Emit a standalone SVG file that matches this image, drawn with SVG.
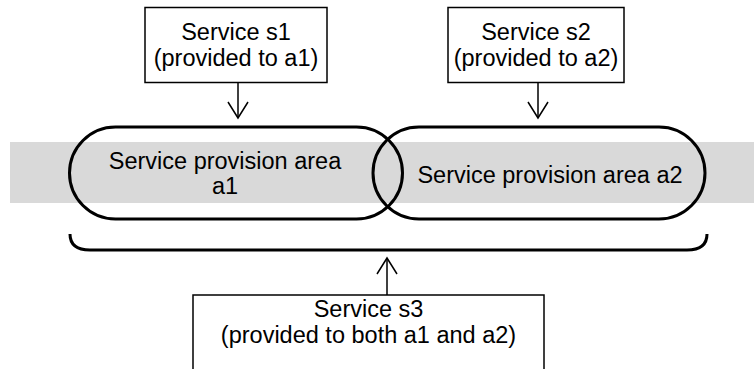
<svg xmlns="http://www.w3.org/2000/svg" width="754" height="369" viewBox="0 0 754 369">
<style>
text{font-family:"Liberation Sans",Arial,sans-serif;font-size:23.5px;fill:#000;text-anchor:middle}
.box{fill:#fff;stroke:#000;stroke-width:1.5}
.pill{fill:none;stroke:#000;stroke-width:3}
.conn{fill:none;stroke:#000;stroke-width:1.5}
</style>
<defs>
<marker id="arr" markerUnits="userSpaceOnUse" viewBox="-18 -11 20 22" markerWidth="20" markerHeight="22" refX="0" refY="0" orient="auto">
<path d="M-16,-10 L0,0 L-16,10" fill="none" stroke="#000" stroke-width="1.5"/>
</marker>
</defs>
<rect id="band" x="10" y="142" width="744" height="61" fill="#d9d9d9"/>
<g id="area-a1">
<rect class="pill" x="69.5" y="127" width="333" height="92" rx="46" ry="46"/>
<text x="225" y="169">Service provision area</text>
<text x="225" y="194">a1</text>
</g>
<g id="area-a2">
<rect class="pill" x="373" y="127" width="332" height="92" rx="46" ry="46"/>
<text x="550" y="183">Service provision area a2</text>
</g>
<g id="bracket">
<path class="pill" d="M70,234 C70,246 78,250 90,250 L687,250 C699,250 707,246 707,234"/>
</g>
<g id="s1">
<rect class="box" x="145" y="7.5" width="182" height="75"/>
<text x="236" y="40">Service s1</text>
<text x="236" y="66">(provided to a1)</text>
</g>
<g id="s2">
<rect class="box" x="448" y="7.5" width="176" height="75"/>
<text x="536" y="40">Service s2</text>
<text x="536" y="66">(provided to a2)</text>
</g>
<g id="s3">
<rect class="box" x="193" y="295" width="351" height="90"/>
<text x="368.5" y="317">Service s3</text>
<text x="368.5" y="343">(provided to both a1 and a2)</text>
</g>
<g id="connectors">
<path class="conn" d="M238,82.5 L238,118" marker-end="url(#arr)"/>
<path class="conn" d="M538,82.5 L538,118" marker-end="url(#arr)"/>
<path class="conn" d="M387,295 L387,258" marker-end="url(#arr)"/>
</g>
</svg>
